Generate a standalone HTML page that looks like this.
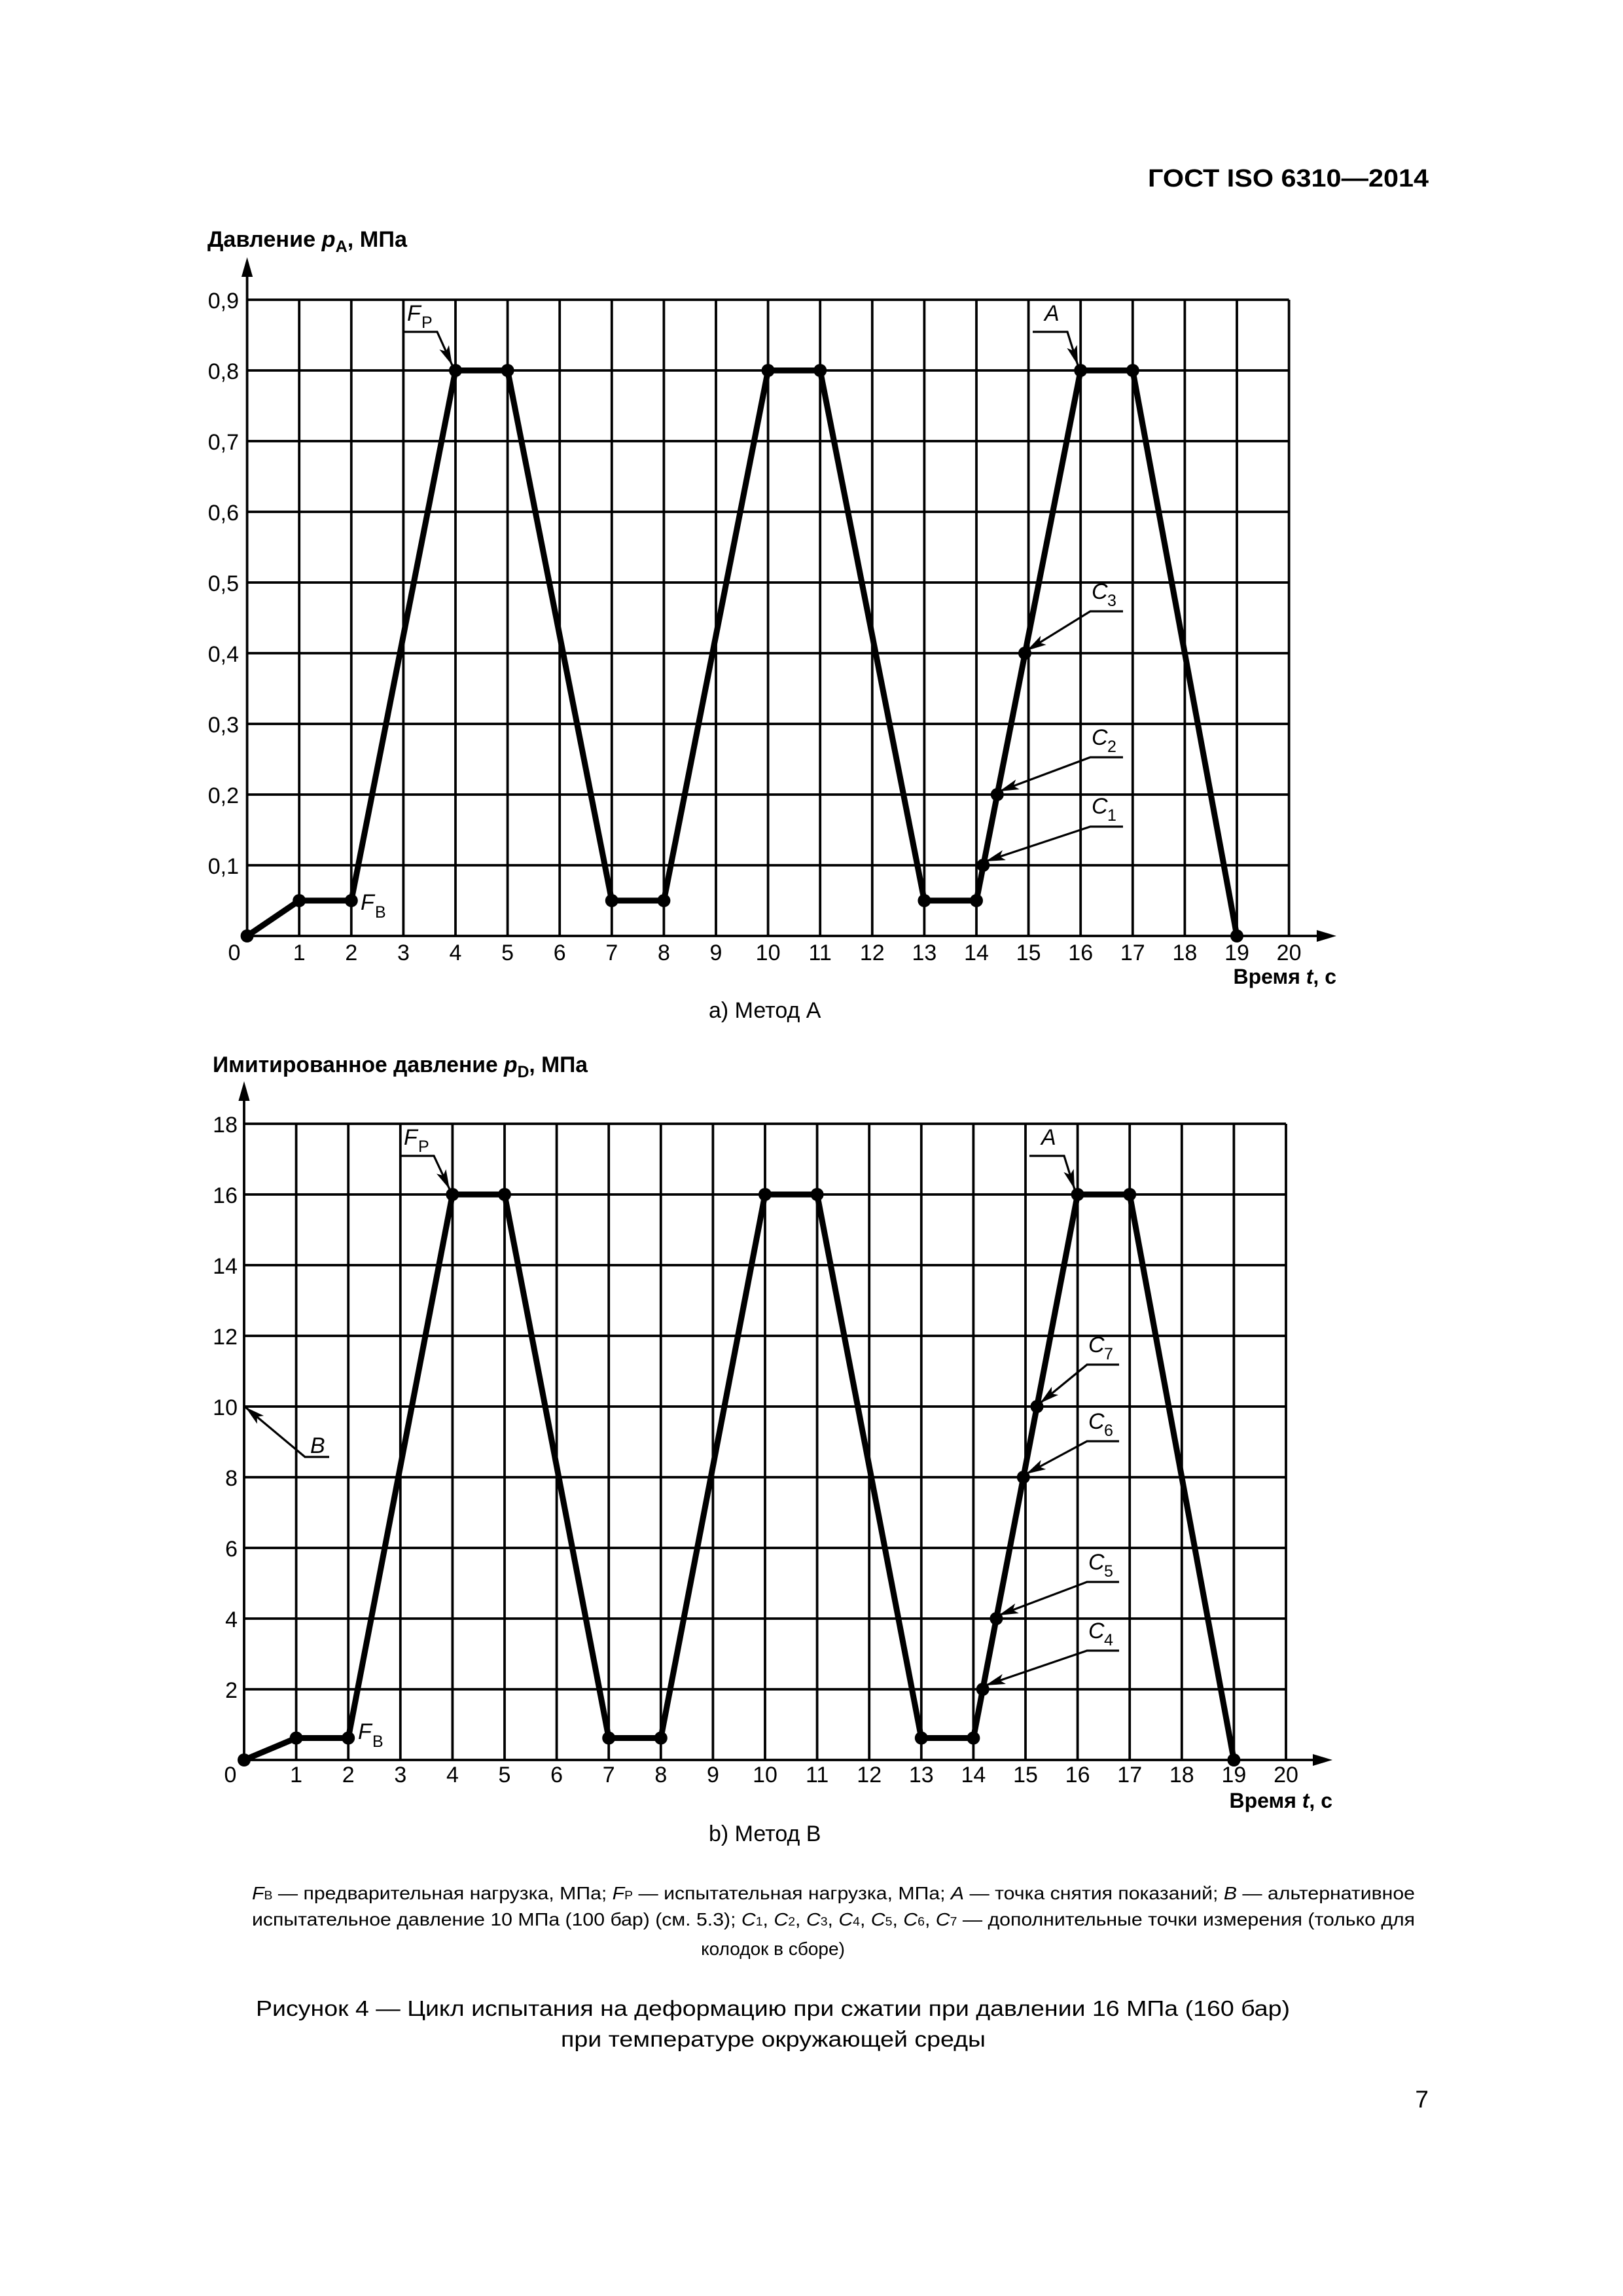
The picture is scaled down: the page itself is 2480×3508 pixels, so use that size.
<!DOCTYPE html>
<html><head><meta charset="utf-8"><style>
html,body{margin:0;padding:0;background:#fff}
svg{display:block}
text{font-family:"Liberation Sans",Arial,sans-serif;fill:#000}
.b{font-weight:bold}
.i{font-style:italic}
</style></head><body>
<svg width="2480" height="3508" viewBox="0 0 2480 3508" xmlns="http://www.w3.org/2000/svg">
<defs>
<marker id="ar" markerUnits="userSpaceOnUse" markerWidth="32" markerHeight="16" refX="30" refY="8" orient="auto">
<path d="M0,0 L30,8 L0,16 L7,8 Z" fill="#000"/>
</marker>
</defs>
<rect width="2480" height="3508" fill="#fff"/>

<text class="b" x="1754" y="285" font-size="38" textLength="429" lengthAdjust="spacingAndGlyphs">ГОСТ ISO 6310—2014</text>

<!-- ============ CHART A ============ -->
<text class="b" x="317" y="377" font-size="34" textLength="305" lengthAdjust="spacingAndGlyphs">Давление <tspan class="i">p</tspan><tspan font-size="25" dy="8">A</tspan><tspan dy="-8">, МПа</tspan></text>
<g stroke="#000" stroke-width="3.8" fill="none">
<path d="M377.6 458H1969.6M377.6 566H1969.6M377.6 674H1969.6M377.6 782H1969.6M377.6 890H1969.6M377.6 998H1969.6M377.6 1106H1969.6M377.6 1214H1969.6M377.6 1322H1969.6"/>
<path d="M457.2 458V1430M536.8 458V1430M616.4 458V1430M696 458V1430M775.6 458V1430M855.2 458V1430M934.8 458V1430M1014.4 458V1430M1094 458V1430M1173.6 458V1430M1253.2 458V1430M1332.8 458V1430M1412.4 458V1430M1492 458V1430M1571.6 458V1430M1651.2 458V1430M1730.8 458V1430M1810.4 458V1430M1890 458V1430M1969.6 458V1430"/>
<path d="M377.6 420V1430H2015"/>
</g>
<polygon points="369,423 377.6,393 386.2,423" fill="#000"/>
<polygon points="2012,1421 2042,1430 2012,1439" fill="#000"/>
<polyline fill="none" stroke="#000" stroke-width="9" stroke-linejoin="round" points="377.6,1430 457.2,1376 536.8,1376 696,566 775.6,566 934.8,1376 1014.4,1376 1173.6,566 1253.2,566 1412.4,1376 1492,1376 1651.2,566 1730.8,566 1890,1430"/>
<g fill="#000">
<circle cx="377.6" cy="1430" r="10"/><circle cx="457.2" cy="1376" r="10"/><circle cx="536.8" cy="1376" r="10"/><circle cx="696" cy="566" r="10"/><circle cx="775.6" cy="566" r="10"/><circle cx="934.8" cy="1376" r="10"/><circle cx="1014.4" cy="1376" r="10"/><circle cx="1173.6" cy="566" r="10"/><circle cx="1253.2" cy="566" r="10"/><circle cx="1412.4" cy="1376" r="10"/><circle cx="1492" cy="1376" r="10"/><circle cx="1651.2" cy="566" r="10"/><circle cx="1730.8" cy="566" r="10"/><circle cx="1890" cy="1430" r="10"/>
<circle cx="1502.3" cy="1322" r="10"/><circle cx="1523.8" cy="1214" r="10"/><circle cx="1566" cy="998" r="10"/>
</g>
<g font-size="34" text-anchor="end">
<text x="365" y="471">0,9</text><text x="365" y="579">0,8</text><text x="365" y="687">0,7</text><text x="365" y="795">0,6</text><text x="365" y="903">0,5</text><text x="365" y="1011">0,4</text><text x="365" y="1119">0,3</text><text x="365" y="1227">0,2</text><text x="365" y="1335">0,1</text>
</g>
<g font-size="34" text-anchor="middle">
<text x="358" y="1467">0</text><text x="457.2" y="1467">1</text><text x="536.8" y="1467">2</text><text x="616.4" y="1467">3</text><text x="696" y="1467">4</text><text x="775.6" y="1467">5</text><text x="855.2" y="1467">6</text><text x="934.8" y="1467">7</text><text x="1014.4" y="1467">8</text><text x="1094" y="1467">9</text><text x="1173.6" y="1467">10</text><text x="1253.2" y="1467">11</text><text x="1332.8" y="1467">12</text><text x="1412.4" y="1467">13</text><text x="1492" y="1467">14</text><text x="1571.6" y="1467">15</text><text x="1651.2" y="1467">16</text><text x="1730.8" y="1467">17</text><text x="1810.4" y="1467">18</text><text x="1890" y="1467">19</text><text x="1969.6" y="1467">20</text>
</g>
<text class="b" x="2042" y="1503" font-size="32" text-anchor="end">Время <tspan class="i">t</tspan>, с</text>
<text x="1083" y="1555" font-size="34">a)  Метод А</text>
<g stroke="#000" stroke-width="3.2" fill="none" marker-end="url(#ar)">
<polyline points="617,507 668,507 691,558"/>
<polyline points="1578,507 1631,507 1647,558"/>
<polyline points="1716,1263 1666,1263 1506,1316"/>
<polyline points="1716,1157 1666,1157 1527,1209"/>
<polyline points="1716,934 1666,934 1569,994"/>
</g>
<text class="i" x="622" y="490" font-size="34">F</text><text x="644" y="501" font-size="25">P</text>
<text class="i" x="1596" y="490" font-size="34">A</text>
<text class="i" x="551" y="1390" font-size="34">F</text><text x="573" y="1402" font-size="25">B</text>
<text class="i" x="1668" y="1243" font-size="34">C</text><text x="1692" y="1254" font-size="25">1</text>
<text class="i" x="1668" y="1138" font-size="34">C</text><text x="1692" y="1149" font-size="25">2</text>
<text class="i" x="1668" y="915" font-size="34">C</text><text x="1692" y="926" font-size="25">3</text>

<!-- ============ CHART B ============ -->
<text class="b" x="325" y="1638" font-size="34" textLength="573" lengthAdjust="spacingAndGlyphs">Имитированное давление <tspan class="i">p</tspan><tspan font-size="25" dy="8">D</tspan><tspan dy="-8">, МПа</tspan></text>
<g stroke="#000" stroke-width="3.8" fill="none">
<path d="M373 1717H1965M373 1825H1965M373 1933H1965M373 2041H1965M373 2149H1965M373 2257H1965M373 2365H1965M373 2473H1965M373 2581H1965"/>
<path d="M452.6 1717V2689M532.2 1717V2689M611.8 1717V2689M691.4 1717V2689M771 1717V2689M850.6 1717V2689M930.2 1717V2689M1009.8 1717V2689M1089.4 1717V2689M1169 1717V2689M1248.6 1717V2689M1328.2 1717V2689M1407.8 1717V2689M1487.4 1717V2689M1567 1717V2689M1646.6 1717V2689M1726.2 1717V2689M1805.8 1717V2689M1885.4 1717V2689M1965 1717V2689"/>
<path d="M373 1680V2689H2008"/>
</g>
<polygon points="364.4,1682 373,1652 381.6,1682" fill="#000"/>
<polygon points="2006,2680 2036,2689 2006,2698" fill="#000"/>
<polyline fill="none" stroke="#000" stroke-width="9" stroke-linejoin="round" points="373,2689 452.6,2655.5 532.2,2655.5 691.4,1825 771,1825 930.2,2655.5 1009.8,2655.5 1169,1825 1248.6,1825 1407.8,2655.5 1487.4,2655.5 1646.6,1825 1726.2,1825 1885.4,2689"/>
<g fill="#000">
<circle cx="373" cy="2689" r="10"/><circle cx="452.6" cy="2655.5" r="10"/><circle cx="532.2" cy="2655.5" r="10"/><circle cx="691.4" cy="1825" r="10"/><circle cx="771" cy="1825" r="10"/><circle cx="930.2" cy="2655.5" r="10"/><circle cx="1009.8" cy="2655.5" r="10"/><circle cx="1169" cy="1825" r="10"/><circle cx="1248.6" cy="1825" r="10"/><circle cx="1407.8" cy="2655.5" r="10"/><circle cx="1487.4" cy="2655.5" r="10"/><circle cx="1646.6" cy="1825" r="10"/><circle cx="1726.2" cy="1825" r="10"/><circle cx="1885.4" cy="2689" r="10"/>
<circle cx="1501.7" cy="2581" r="10"/><circle cx="1522.4" cy="2473" r="10"/><circle cx="1563.8" cy="2257" r="10"/><circle cx="1584.5" cy="2149" r="10"/>
</g>
<g font-size="34" text-anchor="end">
<text x="363" y="1730">18</text><text x="363" y="1838">16</text><text x="363" y="1946">14</text><text x="363" y="2054">12</text><text x="363" y="2162">10</text><text x="363" y="2270">8</text><text x="363" y="2378">6</text><text x="363" y="2486">4</text><text x="363" y="2594">2</text>
</g>
<g font-size="34" text-anchor="middle">
<text x="352" y="2723">0</text><text x="452.6" y="2723">1</text><text x="532.2" y="2723">2</text><text x="611.8" y="2723">3</text><text x="691.4" y="2723">4</text><text x="771" y="2723">5</text><text x="850.6" y="2723">6</text><text x="930.2" y="2723">7</text><text x="1009.8" y="2723">8</text><text x="1089.4" y="2723">9</text><text x="1169" y="2723">10</text><text x="1248.6" y="2723">11</text><text x="1328.2" y="2723">12</text><text x="1407.8" y="2723">13</text><text x="1487.4" y="2723">14</text><text x="1567" y="2723">15</text><text x="1646.6" y="2723">16</text><text x="1726.2" y="2723">17</text><text x="1805.8" y="2723">18</text><text x="1885.4" y="2723">19</text><text x="1965" y="2723">20</text>
</g>
<text class="b" x="2036" y="2762" font-size="32" text-anchor="end">Время <tspan class="i">t</tspan>, с</text>
<text x="1083" y="2813" font-size="34">b)  Метод B</text>
<g stroke="#000" stroke-width="3.2" fill="none" marker-end="url(#ar)">
<polyline points="612,1766 663,1766 687,1817"/>
<polyline points="1573,1766 1626,1766 1642,1817"/>
<polyline points="1710,2522 1661,2522 1506,2575"/>
<polyline points="1710,2417 1661,2417 1526,2468"/>
<polyline points="1710,2202 1661,2202 1568,2252"/>
<polyline points="1710,2085 1661,2085 1589,2144"/>
<polyline points="503,2226 466,2226 375,2150"/>
</g>
<text class="i" x="617" y="1749" font-size="34">F</text><text x="639" y="1760" font-size="25">P</text>
<text class="i" x="1591" y="1749" font-size="34">A</text>
<text class="i" x="547" y="2657" font-size="34">F</text><text x="569" y="2669" font-size="25">B</text>
<text class="i" x="474" y="2220" font-size="34">B</text>
<text class="i" x="1663" y="2503" font-size="34">C</text><text x="1687" y="2514" font-size="25">4</text>
<text class="i" x="1663" y="2398" font-size="34">C</text><text x="1687" y="2409" font-size="25">5</text>
<text class="i" x="1663" y="2183" font-size="34">C</text><text x="1687" y="2194" font-size="25">6</text>
<text class="i" x="1663" y="2066" font-size="34">C</text><text x="1687" y="2077" font-size="25">7</text>

<!-- footnote -->
<text x="385" y="2902" font-size="28" textLength="1777" lengthAdjust="spacingAndGlyphs"><tspan class="i">F</tspan><tspan font-size="18">B</tspan> — предварительная нагрузка, МПа; <tspan class="i">F</tspan><tspan font-size="18">P</tspan> — испытательная нагрузка, МПа; <tspan class="i">A</tspan> — точка снятия показаний; <tspan class="i">B</tspan> — альтернативное</text>
<text x="385" y="2942" font-size="28" textLength="1777" lengthAdjust="spacingAndGlyphs">испытательное давление 10 МПа (100 бар) (см. 5.3); <tspan class="i">C</tspan><tspan font-size="18">1</tspan>, <tspan class="i">C</tspan><tspan font-size="18">2</tspan>, <tspan class="i">C</tspan><tspan font-size="18">3</tspan>, <tspan class="i">C</tspan><tspan font-size="18">4</tspan>, <tspan class="i">C</tspan><tspan font-size="18">5</tspan>, <tspan class="i">C</tspan><tspan font-size="18">6</tspan>, <tspan class="i">C</tspan><tspan font-size="18">7</tspan> — дополнительные точки измерения (только для</text>
<text x="1181" y="2987" font-size="28" text-anchor="middle">колодок в сборе)</text>

<text x="391" y="3080" font-size="33" textLength="1580" lengthAdjust="spacingAndGlyphs">Рисунок 4 — Цикл испытания на деформацию при сжатии при давлении 16 МПа (160 бар)</text>
<text x="857" y="3127" font-size="33" textLength="649" lengthAdjust="spacingAndGlyphs">при температуре окружающей среды</text>

<text x="2183" y="3220" font-size="37" text-anchor="end">7</text>
</svg>
</body></html>
